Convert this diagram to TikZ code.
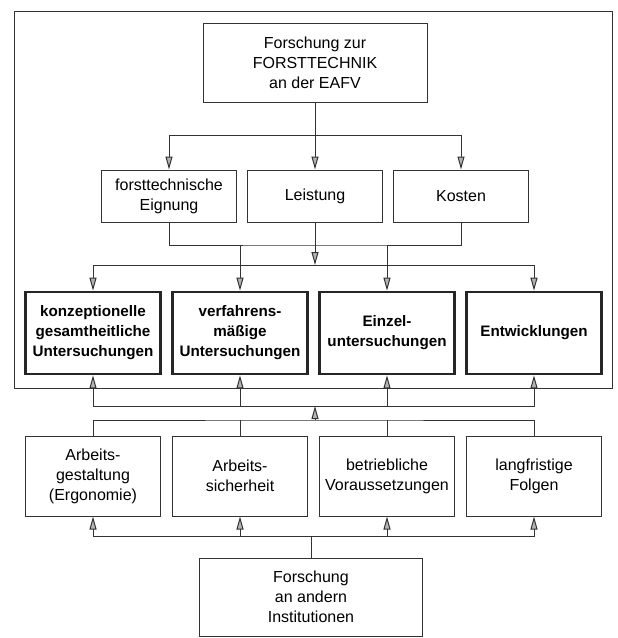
\documentclass[tikz,border=0pt]{standalone}
\usepackage{fontspec}
\setmainfont{Liberation Sans}
\usetikzlibrary{arrows.meta, positioning, calc}

\begin{document}
\begin{tikzpicture}[x=0.5pt, y=-0.5pt,
        box/.style={draw=black!80, line width=0.5pt, minimum width=67.5pt, align=center, inner sep=0pt, font=\fontsize{8}{10}\selectfont},
        boldbox/.style={draw=black!85, line width=1.3pt, minimum width=67.5pt, minimum height=41pt, align=center, inner sep=0pt, font=\fontsize{7.6}{10}\selectfont\bfseries},
        link/.style={draw=black!80, line width=0.5pt},
        arr/.style={link, -{Triangle[length=6.5pt, width=3.5pt, fill=black!30]}}]
        \useasboundingbox (0,0) rectangle (617,638);

        % Outer frame
        \draw[link] (14,11) rectangle (612,388);

        % Top
        \node[box, minimum width=112pt, minimum height=39.5pt] (eafv) at (315,62.5) {Forschung zur\\FORSTTECHNIK\\an der EAFV};

        % Criteria
        \node[box, minimum height=26pt] (eign) at (169,196) {forsttechnische\\Eignung};
        \node[box, minimum height=26pt] (leis) at (315,196) {Leistung};
        \node[box, minimum height=26pt] (kost) at (461,196) {Kosten};

        % Kinds of studies
        \node[boldbox] (konz) at (93,333) {konzeptionelle\\gesamtheitliche\\Untersuchungen};
        \node[boldbox] (verf) at (240,333) {verfahrens-\\mäßige\\Untersuchungen};
        \node[boldbox] (einz) at (387,333) {Einzel-\\untersuchungen};
        \node[boldbox] (entw) at (534,333) {Entwicklungen};

        % Fields
        \node[box, minimum height=40pt] (ergo) at (93,476) {Arbeits-\\gestaltung\\(Ergonomie)};
        \node[box, minimum height=40pt] (sich) at (240,476) {Arbeits-\\sicherheit};
        \node[box, minimum height=40pt] (vor) at (387,476) {betriebliche\\Voraussetzungen};
        \node[box, minimum height=40pt] (folg) at (534,476) {langfristige\\Folgen};

        % Bottom
        \node[box, minimum width=111.5pt, minimum height=39pt] (inst) at (311,597) {Forschung\\an andern\\Institutionen};

        % Junctions
        \coordinate (b1) at (315,135);
        \coordinate (b2) at (315,245);
        \coordinate (b3) at (315,265);
        \coordinate (b4) at (315,406);
        \coordinate (b5) at (315,420);
        \coordinate (b6) at (311,536);

        % Top to criteria
        \draw[link] (eafv.south) -- (b1);
        \draw[arr] (b1) -| (eign.north);
        \draw[arr] (b1) -- (leis.north);
        \draw[arr] (b1) -| (kost.north);

        % Criteria to studies
        \draw[link] (eign.south) |- (b2) -| (kost.south);
        \draw[link] (leis.south) -- (b2);
        \draw[arr] (b2) -- (b3);
        \draw[arr] (b3) -| (konz.north);
        \draw[arr] (b3) -| (entw.north);
        \draw[arr] (b2 -| verf.north) -- (verf.north);
        \draw[arr] (b2 -| einz.north) -- (einz.north);

        % Fields to studies
        \draw[arr] (b4) -| (konz.south);
        \draw[arr] (b4) -| (entw.south);
        \draw[arr] (b4 -| verf.south) -- (verf.south);
        \draw[arr] (b4 -| einz.south) -- (einz.south);
        \draw[arr] (b5) -- (b4);
        \draw[link] (ergo.north) |- (b5) -| (folg.north);
        \draw[link] (sich.north) -- (sich.north |- b5);
        \draw[link] (vor.north) -- (vor.north |- b5);

        % Other institutions to fields
        \draw[link] (inst.north) -- (b6);
        \draw[arr] (b6) -| (ergo.south);
        \draw[arr] (b6) -| (folg.south);
        \draw[arr] (b6 -| sich.south) -- (sich.south);
        \draw[arr] (b6 -| vor.south) -- (vor.south);
    \end{tikzpicture}
\end{document}
